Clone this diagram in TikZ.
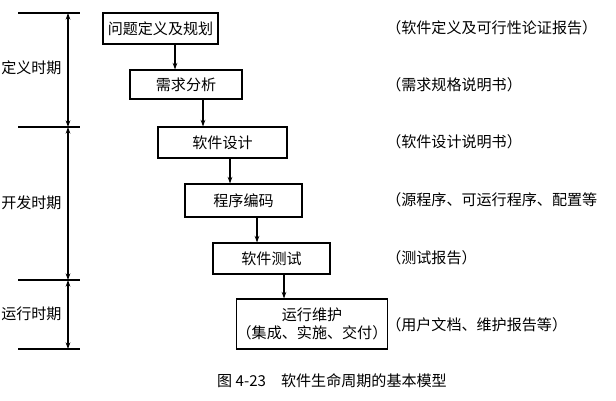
\documentclass[tikz,border=0pt]{standalone}
\usepackage{fontspec}
\setmainfont{Noto Sans CJK SC}
\usetikzlibrary{arrows.meta}
\tikzset{x=0.75pt,y=-0.75pt,
 stepbox/.style={draw,thick,inner sep=0pt,font=\fontsize{11.3}{13}\selectfont},
 lbl/.style={anchor=west,inner sep=0pt,font=\fontsize{11.3}{13}\selectfont},
 arr/.style={-{Stealth[length=5pt,width=3.5pt]},thick},
 darr/.style={{Stealth[length=5pt,width=3.5pt]}-{Stealth[length=5pt,width=3.5pt]},thick}}
\begin{document}
\begin{tikzpicture}
\useasboundingbox (0,0) rectangle (616,400);
\node[stepbox,minimum width=115*0.75pt,minimum height=31*0.75pt] (b1) at (160.5,28.5) {问题定义及规划};
\node[stepbox,minimum width=112*0.75pt,minimum height=29*0.75pt] (b2) at (186,84.5) {需求分析};
\node[stepbox,minimum width=129*0.75pt,minimum height=31*0.75pt] (b3) at (222.5,142.5) {软件设计};
\node[stepbox,minimum width=117*0.75pt,minimum height=33*0.75pt] (b4) at (243.5,200.5) {程序编码};
\node[stepbox,minimum width=117*0.75pt,minimum height=31*0.75pt] (b5) at (271.5,258.5) {软件测试};
\node[stepbox,minimum width=146*0.75pt,minimum height=50*0.75pt,align=center] (b6) at (312,324) {运行维护\\（集成、实施、交付）};
\draw[arr] (b1.south -| 175,0) -- (b2.north -| 175,0);
\draw[arr] (b2.south -| 203,0) -- (b3.north -| 203,0);
\draw[arr] (b3.south -| 230,0) -- (b4.north -| 230,0);
\draw[arr] (b4.south -| 257,0) -- (b5.north -| 257,0);
\draw[arr] (b5.south -| 284,0) -- (b6.north -| 284,0);
\foreach \y in {13,127,280,349} \draw[thick] (18,\y) -- (80,\y);
\coordinate (t0) at (68,13); \coordinate (t1) at (68,127);
\coordinate (t2) at (68,280); \coordinate (t3) at (68,349);
\draw[darr] (t0) -- (t1);
\draw[darr] (t1) -- (t2);
\draw[darr] (t2) -- (t3);
\node[lbl] (p1) at (1,68) {定义时期};
\node[lbl] (p2) at (1,203) {开发时期};
\node[lbl] (p3) at (1,314) {运行时期};
\node[lbl] (r1) at (386,28) {（软件定义及可行性论证报告）};
\node[lbl] (r2) at (386,85) {（需求规格说明书）};
\node[lbl] (r3) at (386,142) {（软件设计说明书）};
\node[lbl] (r4) at (386,200) {（源程序、可运行程序、配置等};
\node[lbl] (r5) at (386,258) {（测试报告）};
\node[lbl] (r6) at (386,325) {（用户文档、维护报告等）};
\node[lbl,anchor=center] (cap) at (332,381) {图 4-23\quad 软件生命周期的基本模型};
\end{tikzpicture}
\end{document}
